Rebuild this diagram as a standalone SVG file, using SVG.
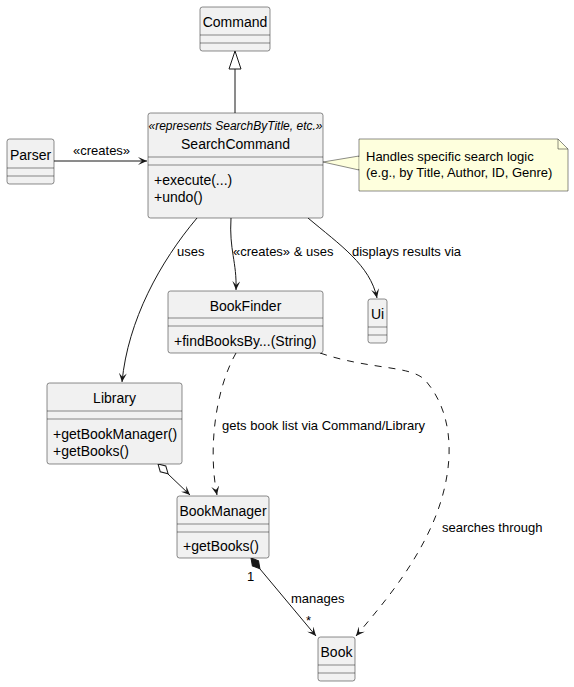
<svg xmlns="http://www.w3.org/2000/svg" width="574" height="687" viewBox="0 0 574 687">
<style>
.cls{fill:#F1F1F1;stroke:#181818;stroke-width:0.5}
.sep{stroke:#181818;stroke-width:0.5}
.nm{font-family:"Liberation Sans",Arial,sans-serif;font-size:14px;fill:#000;text-anchor:middle}
.mb{font-family:"Liberation Sans",Arial,sans-serif;font-size:14px;fill:#000}
.st{font-family:"Liberation Sans",Arial,sans-serif;font-size:12px;font-style:italic;fill:#000;text-anchor:middle}
.lbl{font-family:"Liberation Sans",Arial,sans-serif;font-size:13px;fill:#000}
.edge{fill:none;stroke:#181818;stroke-width:1}
.dash{stroke-dasharray:7,7}
</style>
<defs>
<marker id="arr" viewBox="0 0 9 8" refX="9" refY="4" markerWidth="9" markerHeight="8" markerUnits="userSpaceOnUse" orient="auto">
<path d="M0,0 L9,4 L0,8 L4,4 Z" fill="#181818"/>
</marker>
</defs>

<g id="connectors">
<line class="edge" x1="235" y1="69" x2="235" y2="113"/>
<polygon points="235,51 229,69 241,69" fill="none" stroke="#181818" stroke-width="1"/>
<line class="edge" x1="54" y1="161" x2="147" y2="161" marker-end="url(#arr)"/>
<text class="lbl" x="73" y="155">«creates»</text>
<path class="edge" d="M197,218 C160,262 128,320 122,382" marker-end="url(#arr)"/>
<text class="lbl" x="177" y="256">uses</text>
<path class="edge" d="M231,218 C229,250 237,262 236,290" marker-end="url(#arr)"/>
<text class="lbl" x="233" y="256">«creates» &amp; uses</text>
<path class="edge" d="M308,218 C340,245 370,265 377,298" marker-end="url(#arr)"/>
<text class="lbl" x="352" y="256">displays results via</text>
<path class="edge dash" d="M236,353 C215,390 208,450 217,495" marker-end="url(#arr)"/>
<text class="lbl" x="222" y="430">gets book list via Command/Library</text>
<path class="edge dash" d="M320,353 C370,370 410,365 425,380 C460,420 452,480 432,525 C412,570 382,605 356,636" marker-end="url(#arr)"/>
<text class="lbl" x="442" y="532">searches through</text>
<polygon points="0,0 7,-4 14,0 7,4" transform="translate(158,464) rotate(44)" fill="#FFFFFF" stroke="#181818" stroke-width="1"/>
<line class="edge" x1="168" y1="474" x2="190" y2="495" marker-end="url(#arr)"/>
<polygon points="0,0 7,-4 14,0 7,4" transform="translate(251,558) rotate(50.5)" fill="#181818" stroke="#181818" stroke-width="1"/>
<line class="edge" x1="260" y1="569" x2="316" y2="636" marker-end="url(#arr)"/>
<text class="lbl" x="247" y="581">1</text>
<text class="lbl" x="291" y="603">manages</text>
<text class="lbl" x="306" y="625">*</text>
</g>

<g id="Command">
<rect class="cls" x="200" y="7" width="70" height="44" rx="2.5"/>
<line class="sep" x1="200" y1="35" x2="270" y2="35"/>
<line class="sep" x1="200" y1="43" x2="270" y2="43"/>
<text class="nm" x="235" y="27">Command</text>
</g>

<g id="Parser">
<rect class="cls" x="7" y="139" width="47" height="45" rx="2.5"/>
<line class="sep" x1="7" y1="168" x2="54" y2="168"/>
<line class="sep" x1="7" y1="176" x2="54" y2="176"/>
<text class="nm" x="30.5" y="160">Parser</text>
</g>

<g id="SearchCommand">
<rect class="cls" x="148" y="113" width="175" height="105" rx="2.5"/>
<text class="st" x="235.5" y="130">«represents SearchByTitle, etc.»</text>
<text class="nm" x="235.5" y="149">SearchCommand</text>
<line class="sep" x1="148" y1="157" x2="323" y2="157"/>
<line class="sep" x1="148" y1="165" x2="323" y2="165"/>
<text class="mb" x="154" y="185">+execute(...)</text>
<text class="mb" x="154" y="202">+undo()</text>
</g>

<g id="note">
<path d="M323,162 L359,156 L359,170 Z" fill="#FEFFDD" stroke="#181818" stroke-width="0.5"/>
<path d="M359,139 L558,139 L568,149 L568,191 L359,191 Z" fill="#FEFFDD" stroke="#181818" stroke-width="0.5"/>
<path d="M558,139 L558,149 L568,149" fill="none" stroke="#181818" stroke-width="0.5"/>
<line x1="359" y1="157" x2="359" y2="169" stroke="#FEFFDD" stroke-width="1"/>
<text class="lbl" x="366" y="161">Handles specific search logic</text>
<text class="lbl" x="366" y="177">(e.g., by Title, Author, ID, Genre)</text>
</g>

<g id="BookFinder">
<rect class="cls" x="168" y="291" width="155" height="62" rx="2.5"/>
<text class="nm" x="245.5" y="311">BookFinder</text>
<line class="sep" x1="168" y1="318" x2="323" y2="318"/>
<line class="sep" x1="168" y1="326" x2="323" y2="326"/>
<text class="mb" x="174" y="346">+findBooksBy...(String)</text>
</g>

<g id="Ui">
<rect class="cls" x="368" y="299" width="19" height="44" rx="2.5"/>
<text class="nm" x="377.5" y="319">Ui</text>
<line class="sep" x1="368" y1="327" x2="387" y2="327"/>
<line class="sep" x1="368" y1="335" x2="387" y2="335"/>
</g>

<g id="Library">
<rect class="cls" x="47" y="383" width="135" height="81" rx="2.5"/>
<text class="nm" x="114.5" y="403">Library</text>
<line class="sep" x1="47" y1="411" x2="182" y2="411"/>
<line class="sep" x1="47" y1="419" x2="182" y2="419"/>
<text class="mb" x="53" y="439">+getBookManager()</text>
<text class="mb" x="53" y="456">+getBooks()</text>
</g>

<g id="BookManager">
<rect class="cls" x="177" y="496" width="92" height="62" rx="2.5"/>
<text class="nm" x="223" y="516">BookManager</text>
<line class="sep" x1="177" y1="524" x2="269" y2="524"/>
<line class="sep" x1="177" y1="532" x2="269" y2="532"/>
<text class="mb" x="183" y="551">+getBooks()</text>
</g>

<g id="Book">
<rect class="cls" x="318" y="637" width="37" height="44" rx="2.5"/>
<text class="nm" x="336.5" y="657">Book</text>
<line class="sep" x1="318" y1="665" x2="355" y2="665"/>
<line class="sep" x1="318" y1="673" x2="355" y2="673"/>
</g>
</svg>
